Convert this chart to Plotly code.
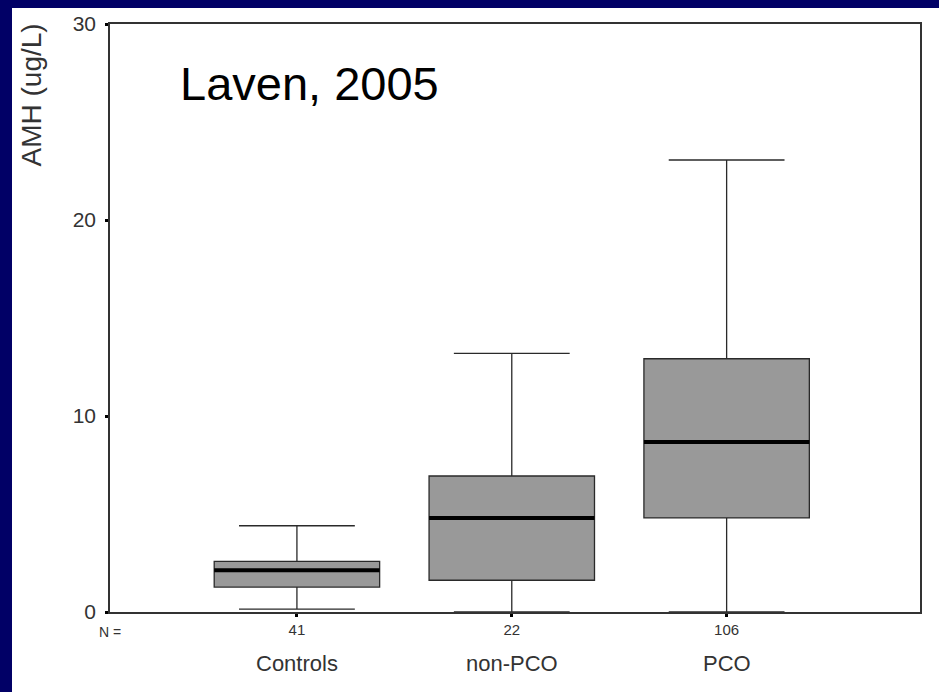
import plotly.graph_objects as go

groups = ["Controls", "non-PCO", "PCO"]
n_labels = ["41", "22", "106"]
positions = [1, 2, 3]
q1 = [1.27, 1.62, 4.8]
median = [2.13, 4.8, 8.67]
q3 = [2.58, 6.94, 12.92]
lower = [0.15, 0.0, 0.0]
upper = [4.4, 13.2, 23.06]

BOXW = 0.77
fig = go.Figure()
for p, a, m, b, lo, hi in zip(positions, q1, median, q3, lower, upper):
    fig.add_trace(go.Box(
        x=[p], q1=[a], median=[m], q3=[b], lowerfence=[lo], upperfence=[hi],
        width=BOXW, whiskerwidth=0.7, fillcolor="#999999",
        line=dict(color="#2a2a2a", width=1.3), boxpoints=False,
        showlegend=False, hoverinfo="skip"))
    fig.add_trace(go.Scatter(
        x=[p - BOXW / 2, p + BOXW / 2], y=[m, m], mode="lines",
        line=dict(color="black", width=4), showlegend=False, hoverinfo="skip"))

L, R, T, B = 110, 19, 20, 80
W, H = 939, 692
pw, ph = W - L - R, H - T - B
fig.add_shape(type="rect", xref="paper", yref="paper", layer="below",
              x0=(12 - L) / pw, x1=(W - L) / pw + 0.01,
              y0=-(H - T - ph) / ph - 0.01, y1=(H - 4 - B) / ph,
              fillcolor="white", line=dict(width=0))

for p, g in zip(positions, groups):
    fig.add_annotation(x=p, y=-52 / ph, xref="x", yref="paper", text=g,
                       showarrow=False, font=dict(size=22, color="#333"),
                       yanchor="middle")
fig.add_annotation(x=0, y=-20 / ph, xref="paper", yref="paper", text="N =",
                   showarrow=False, font=dict(size=14, color="#333"),
                   xanchor="center", yanchor="middle")
fig.add_annotation(x=-78 / pw, y=(H - B - 92) / ph, xref="paper", yref="paper",
                   text="AMH (ug/L)", textangle=-90, showarrow=False,
                   font=dict(size=28, color="#333"), xanchor="center", yanchor="middle")
fig.add_annotation(x=(178 - L) / pw, y=(H - B - 80) / ph, xref="paper", yref="paper",
                   text="Laven, 2005", showarrow=False, xanchor="left", yanchor="middle",
                   font=dict(size=47, color="black"))

fig.update_layout(
    width=W, height=H, margin=dict(l=L, r=R, t=T, b=B),
    paper_bgcolor="#010066", plot_bgcolor="white",
    font=dict(family="Liberation Sans, Arial, sans-serif"),
    xaxis=dict(range=[0.13, 3.9], tickvals=positions, ticktext=n_labels,
               tickfont=dict(size=15, color="#333"), showgrid=False, zeroline=False,
               showline=True, linecolor="#333", linewidth=1.5, mirror=True,
               ticks="outside", ticklen=3, tickwidth=3, tickcolor="black"),
    yaxis=dict(range=[0, 30], tickvals=[0, 10, 20, 30],
               tickfont=dict(size=21, color="#333"), showgrid=False, zeroline=False,
               showline=True, linecolor="#333", linewidth=1.5, mirror=True,
               ticks="outside", ticklen=3, tickwidth=3, tickcolor="black",
               ticklabelstandoff=5),
)
fig.write_html("out.html", config={"displayModeBar": False},
               post_script="document.body.style.margin='0';")
